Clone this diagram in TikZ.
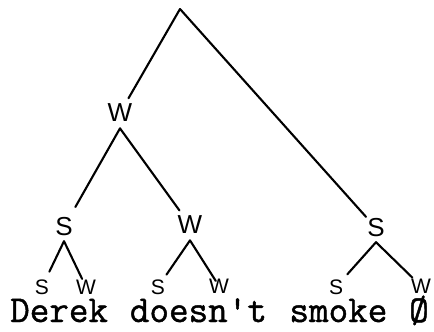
\documentclass[tikz,border=0pt]{standalone}
\usepackage{fontspec}
\newfontfamily\labfont{Liberation Sans}
\newfontfamily\wordfont{Latin Modern Mono}[FakeBold=1.2]
\begin{document}
\begin{tikzpicture}[x=1pt,y=-1pt,
  lab/.style={circle,inner sep=0pt,minimum size=28pt,font=\labfont\fontsize{26}{26}\selectfont},
  leaf/.style={rectangle,inner sep=0pt,font=\labfont\fontsize{21}{21}\selectfont},
  word/.style={anchor=base west,inner sep=0pt,font=\wordfont\fontsize{38}{40}\selectfont},
  edge/.style={line width=2.1pt,line cap=round,line join=round}]
\useasboundingbox (0,0) rectangle (434,332);
\coordinate (root) at (180,9);
\node[lab] (Wa) at (120,113) {W};
\node[lab] (Sa) at (64,227) {S};
\node[lab] (Wb) at (190,225) {W};
\node[lab] (Sc) at (376,228) {S};
\node[leaf] (s1) at (42,287) {S};
\node[leaf] (w1) at (86,287) {W};
\node[leaf] (s2) at (158,287) {S};
\node[leaf] (w2) at (219,286) {W};
\node[leaf] (s3) at (336,287) {S};
\node[leaf] (w3) at (421,286) {W};
\node[word] (derek) at (10,322) {Derek};
\node[word] (doesnt) at (129.7,322) {doesn\textquotesingle t};
\node[word] (smoke) at (289.3,322) {smoke};
\node[word] (empty) at (409,322) {Ø};
\draw[edge,shorten >=17pt] (root) -- (Wa.center);
\draw[edge,shorten >=15pt] (root) -- (Sc.center);
\draw[edge,shorten >=23pt] (Wa.south) -- (Sa.center);
\draw[edge,shorten >=18pt] (Wa.south) -- (Wb.center);
\draw[edge,shorten >=17pt] (Sa.south) -- (s1.center);
\draw[edge,shorten >=9pt] (Sa.south) -- (w1.center);
\draw[edge,shorten >=15pt] (Wb.south) -- (s2.center);
\draw[edge,shorten >=6pt] (Wb.south) -- (w2.center);
\draw[edge,shorten >=17pt] (Sc.south) -- (s3.center);
\draw[edge,shorten >=12pt] (Sc.south) -- (w3.center);
\end{tikzpicture}
\end{document}
